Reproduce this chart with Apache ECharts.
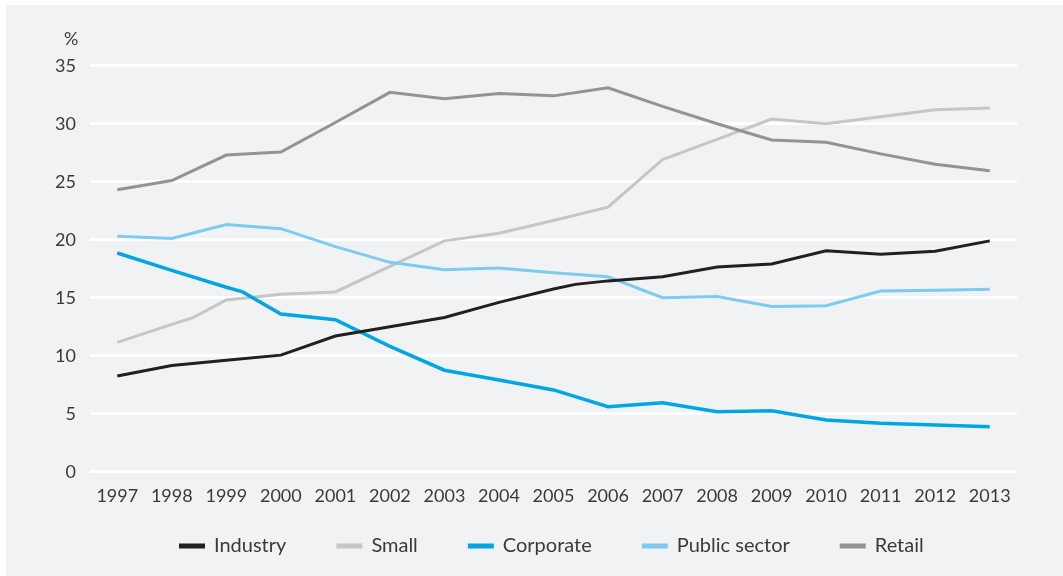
<!DOCTYPE html>
<html>
<head>
<meta charset="utf-8">
<script src="https://cdn.jsdelivr.net/npm/echarts@6/dist/echarts.min.js"></script>
<style>
html,body{margin:0;padding:0;background:#ffffff;width:1063px;height:576px;overflow:hidden;}
#panel{position:absolute;left:6px;top:5px;width:1057px;height:571px;background:#f1f2f4;}
#chart{position:absolute;left:0;top:0;width:1063px;height:576px;}
</style>
</head>
<body>
<div id="panel"></div>
<div id="chart"></div>
<script>
// Data: [year, percent]
const yearTicks = [1997,1998,1999,2000,2001,2002,2003,2004,2005,2006,2007,2008,2009,2010,2011,2012,2013];
const yTicks = [0,5,10,15,20,25,30,35];
const seriesNames = ['Industry','Small','Corporate','Public sector','Retail'];

const industry = [[1997,8.25],[1998,9.15],[1999,9.6],[2000,10.05],[2001,11.7],[2002,12.5],[2003,13.3],[2004,14.6],[2005,15.75],[2005.4,16.15],[2006,16.45],[2007,16.8],[2008,17.65],[2009,17.9],[2010,19.05],[2011,18.75],[2012,19.0],[2013,19.9]];
const small = [[1997,11.15],[1998,12.7],[1998.4,13.3],[1999,14.8],[2000,15.3],[2001,15.5],[2002,17.7],[2003,19.9],[2004,20.55],[2005,21.65],[2006,22.8],[2007,26.9],[2008,28.65],[2009,30.4],[2010,30.0],[2011,30.6],[2012,31.2],[2013,31.35]];
const corporate = [[1997,18.85],[1998,17.35],[1999,15.9],[1999.3,15.5],[2000,13.6],[2001,13.1],[2002,10.8],[2003,8.75],[2004,7.9],[2005,7.05],[2006,5.6],[2007,5.95],[2008,5.17],[2009,5.25],[2010,4.45],[2011,4.17],[2012,4.03],[2013,3.88]];
const publicSector = [[1997,20.3],[1998,20.1],[1999,21.3],[2000,20.95],[2001,19.4],[2002,18.05],[2003,17.4],[2004,17.55],[2005,17.15],[2006,16.8],[2007,15.0],[2008,15.1],[2009,14.25],[2010,14.3],[2011,15.58],[2012,15.65],[2013,15.72]];
const retail = [[1997,24.3],[1998,25.1],[1999,27.3],[2000,27.55],[2001,30.1],[2002,32.7],[2003,32.15],[2004,32.6],[2005,32.4],[2006,33.1],[2007,31.5],[2008,30.0],[2009,28.6],[2010,28.4],[2011,27.4],[2012,26.5],[2013,25.95]];

const colors = ['#231f20','#c6c6c6','#00a6e2','#7ecbef','#939393'];
const FONT = 'Lato, "Open Sans", sans-serif';

const chart = echarts.init(document.getElementById('chart'), null, {renderer:'canvas'});
const mk = (name, data, color, z, w) => ({
  name, type:'line', data, showSymbol:false, symbol:'none', z,
  lineStyle:{color, width:w, join:'miter'}, itemStyle:{color},
  emphasis:{disabled:true}, animation:false
});
chart.setOption({
  backgroundColor:'transparent',
  animation:false,
  title:{text:'%', left:59, top:25, textStyle:{fontFamily:FONT, fontSize:18, fontWeight:'normal', color:'#3a3a3a'}},
  grid:{left:90, right:46, top:65.7, bottom:104.3, containLabel:false},
  legend:{
    data:seriesNames, left:174, top:531, itemWidth:26, itemHeight:5, itemGap:50,
    icon:'rect', textStyle:{fontFamily:FONT, fontSize:20, color:'#3a3a3a', padding:[0,0,0,4]}
  },
  xAxis:{
    type:'value', min:1996.5, max:2013.5, interval:0.5,
    axisLine:{show:false}, axisTick:{show:false}, splitLine:{show:false},
    axisLabel:{
      margin:15, fontFamily:FONT, fontSize:18, color:'#3a3a3a',
      formatter:v => (yearTicks.indexOf(v) >= 0 ? String(v) : '')
    }
  },
  yAxis:{
    type:'value', min:yTicks[0], max:yTicks[yTicks.length-1], interval:5,
    axisLine:{show:false}, axisTick:{show:false},
    splitLine:{show:true, lineStyle:{color:'#ffffff', width:3}},
    axisLabel:{margin:14, fontFamily:FONT, fontSize:18, color:'#3a3a3a'}
  },
  series:[
    mk('Industry', industry, colors[0], 6, 3),
    mk('Small', small, colors[1], 2, 3),
    mk('Corporate', corporate, colors[2], 5, 3.5),
    mk('Public sector', publicSector, colors[3], 4, 3),
    mk('Retail', retail, colors[4], 3, 3)
  ]
});
</script>
</body>
</html>
